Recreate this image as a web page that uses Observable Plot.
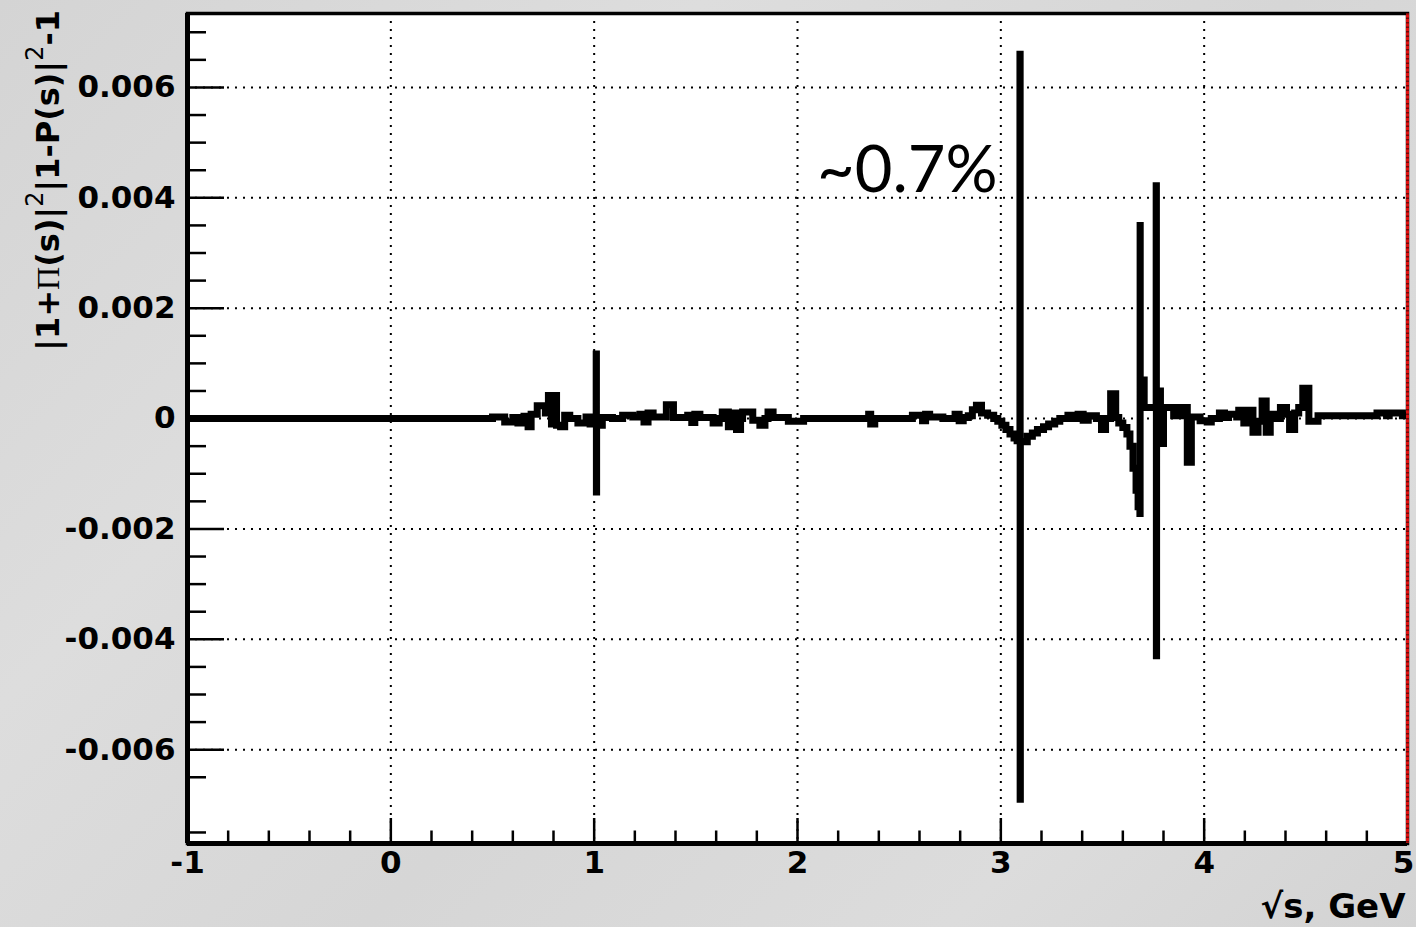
<!DOCTYPE html>
<html>
<head>
<meta charset="utf-8">
<script src="https://cdn.jsdelivr.net/npm/d3@7"></script>
<script src="https://cdn.jsdelivr.net/npm/@observablehq/plot@0.6"></script>
<style>
  html, body { margin: 0; padding: 0; background: #d6d6d6; }
  #chart { position: absolute; left: 0; top: 0; width: 1416px; height: 927px; overflow: hidden;
    background: linear-gradient(135deg, #d4d4d4 0%, #dddddd 30%, #d6d6d6 55%, #dcdcdc 80%, #d3d3d3 100%); }
</style>
</head>
<body>
<div id="chart"></div>
<script>
// sqrt(s) in GeV (bin starts, step-after)
const sqrtS = [
  -1.00, 0.50, 0.56, 0.60, 0.625, 0.655, 0.675, 0.69, 0.72, 0.76, 0.775, 0.79, 0.80, 0.815, 0.835, 0.855,
  0.88, 0.92, 0.96, 0.98, 1.010, 1.011, 1.012, 1.04, 1.09, 1.14, 1.19, 1.225, 1.245, 1.265, 1.29, 1.355,
  1.39, 1.46, 1.48, 1.495, 1.52, 1.585, 1.615, 1.63, 1.66, 1.685, 1.70, 1.72, 1.73, 1.78, 1.815, 1.84,
  1.855, 1.88, 1.955, 2.03, 2.35, 2.36, 2.38, 2.565, 2.615, 2.63, 2.65, 2.715, 2.775, 2.795, 2.815, 2.84,
  2.86, 2.88, 2.905, 2.935, 2.965, 2.985, 3.005, 3.025, 3.045, 3.065, 3.08, 3.094, 3.095, 3.096, 3.13, 3.155,
  3.18, 3.21, 3.235, 3.265, 3.29, 3.33, 3.355, 3.38, 3.405, 3.43, 3.47, 3.495, 3.515, 3.54, 3.565, 3.58,
  3.60, 3.62, 3.635, 3.65, 3.665, 3.675, 3.684, 3.685, 3.6855, 3.705, 3.764, 3.765, 3.766, 3.785, 3.80, 3.85,
  3.863, 3.883, 3.91, 3.917, 3.937, 3.98, 4.015, 4.035, 4.075, 4.10, 4.12, 4.16, 4.17, 4.195, 4.215, 4.24,
  4.265, 4.285, 4.305, 4.325, 4.355, 4.375, 4.405, 4.42, 4.445, 4.465, 4.485, 4.515, 4.56, 4.85, 4.897, 4.91,
  4.975, 5.00
];
// |1+Pi(s)|^2 |1-P(s)|^2 - 1
const deviation = [
  0, 0.00003, -0.00006, 0.00002, -0.00008, 0.00004, -0.00015, 0.00008, 0.00023, 0.0001, 0.00042, -0.0001, 0.00042, -0.00012, -0.00015, 0.00006,
  0, -0.00008, 0.00003, -0.0001, 0.00117, -0.00133, -0.00012, 0.00002, 0, 0.00006, 0.00003, 0.00008, -0.00006, 0.0001, 0.00003, 0.00025,
  0.00002, 0.00006, -0.00007, 0.00008, 0.00002, -0.00008, 0, 0.00012, -0.00015, 0.0001, -0.0002, 0, 0.00012, -0.00003, -0.00012, 0,
  0.00012, 0.00002, -0.00005, 0, 0.00008, -0.0001, 0, 0.00006, -0.00004, 0.00008, 0.00003, 0, 0.00008, -0.00004, 0.00002, 0.00005,
  0.00016, 0.00024, 0.0001, 0.00006, 0, -0.00005, -0.00012, -0.0002, -0.00028, -0.00035, -0.0004, 0.0066, -0.0069, -0.00042, -0.00032, -0.00026,
  -0.0002, -0.00015, -0.0001, -0.00005, 0, 0.00006, 0, 0.00008, -0.00003, 0.00005, 0, -0.0002, 0, 0.00045, 0.00002, -0.00008,
  -0.00016, -0.00028, -0.0005, -0.0009, -0.0013, -0.0016, -0.00172, 0.0035, 0.0007, 0.0002, 0.00422, -0.0043, 0.0005, -0.00045, 0.0002, 0.00005,
  0.0002, 0.00005, 0.0002, -0.00079, 0.00003, -0.00004, -0.00006, 0, 0.0001, 0.00002, 0.00008, 0.00003, 0.00015, -0.00008, 0.00015, -0.00025,
  -0.00005, 0.00032, -0.00025, 0.00008, 0, 0.0002, 0.00008, -0.0002, 0.0001, 0.0002, 0.00055, -0.00005, 0.00005, 0.0001, 0.00005, 0.0001,
  0.00005, 0.00005
];
// tick values
const xMajorTicks = [-1, 0, 1, 2, 3, 4, 5];
const xMinorTicks = [-0.8, -0.6, -0.4, -0.2, 0.2, 0.4, 0.6, 0.8, 1.2, 1.4, 1.6, 1.8, 2.2, 2.4, 2.6, 2.8, 3.2, 3.4, 3.6, 3.8, 4.2, 4.4, 4.6, 4.8];
const yMajorTicks = [-0.006, -0.004, -0.002, 0, 0.002, 0.004, 0.006];
const yMinorTicks = [-0.0075, -0.0065, -0.0055, -0.005, -0.0045, -0.0035, -0.003, -0.0025, -0.0015, -0.001, -0.0005,
  0.0005, 0.001, 0.0015, 0.0025, 0.003, 0.0035, 0.0045, 0.005, 0.0055, 0.0065, 0.007];
const annotations = [{x: 2.54, y: 0.0041, label: "~0.7%"}];
const xTitle = "\u221As, GeV";

const data = sqrtS.map((x, i) => ({x, y: deviation[i]}));

const W = 1416, H = 927;
const mL = 187, mR = 9, mT = 13, mB = 84;
const innerW = W - mL - mR, innerH = H - mT - mB;
const yDomain = [-0.0077, 0.00734];

const fmtY = d => d === 0 ? "0" : (d < 0 ? "-" : "") + Math.abs(d).toFixed(3);
const fmtX = d => (d < 0 ? "-" : "") + Math.abs(d);
const tickFont = {fontSize: 31, fontWeight: "bold", fontFamily: "DejaVu Sans", fill: "black"};

const plot = Plot.plot({
  width: W, height: H,
  marginLeft: mL, marginRight: mR, marginTop: mT, marginBottom: mB,
  style: {background: "transparent", fontFamily: "DejaVu Sans", overflow: "visible"},
  x: {domain: [-1, 5], label: null},
  y: {domain: yDomain, label: null},
  marks: [
    Plot.frame({fill: "white", stroke: null}),
    Plot.gridX(xMajorTicks.slice(1, -1), {stroke: "black", strokeOpacity: 1, strokeWidth: 2, strokeDasharray: "2,6"}),
    Plot.gridY(yMajorTicks, {stroke: "black", strokeOpacity: 1, strokeWidth: 2, strokeDasharray: "2,6"}),
    // inward tick marks
    Plot.tickX(xMajorTicks, {x: d => d, insetTop: innerH - 25, stroke: "black", strokeWidth: 2.5}),
    Plot.tickX(xMinorTicks, {x: d => d, insetTop: innerH - 12.5, stroke: "black", strokeWidth: 2.5}),
    Plot.tickY(yMajorTicks, {y: d => d, insetRight: innerW - 37, stroke: "black", strokeWidth: 2.5}),
    Plot.tickY(yMinorTicks, {y: d => d, insetRight: innerW - 19, stroke: "black", strokeWidth: 2.5}),
    Plot.line(data, {x: "x", y: "y", curve: "step-after", stroke: "black", strokeWidth: 7,
      strokeLinejoin: "miter", strokeMiterlimit: 4, strokeLinecap: "butt", clip: true}),
    Plot.frame({stroke: "black", strokeWidth: 3.5}),
    Plot.ruleX([-1], {stroke: "black", strokeWidth: 5}),
    Plot.ruleY([yDomain[0]], {stroke: "black", strokeWidth: 5}),
    Plot.ruleX([5], {stroke: "#e01010", strokeWidth: 3}),
    Plot.ruleX([5], {stroke: "#300000", strokeWidth: 3, strokeDasharray: "1.5,3", strokeOpacity: 0.6}),
    Plot.axisY(yMajorTicks, {tickSize: 0, tickPadding: 12, tickFormat: fmtY, ...tickFont, label: null}),
    Plot.axisX(xMajorTicks.slice(0, -1), {tickSize: 0, tickPadding: 7, tickFormat: fmtX, ...tickFont, label: null}),
    Plot.axisX(xMajorTicks.slice(-1), {tickSize: 0, tickPadding: 7, tickFormat: fmtX, dx: -4, ...tickFont, label: null}),
    Plot.text([xTitle], {frameAnchor: "bottom-right", dy: 74, dx: -2, text: d => d, textAnchor: "end",
      fontSize: 34, fontWeight: "bold", fontFamily: "DejaVu Sans", fill: "black"}),
    Plot.text(annotations, {x: "x", y: "y", text: "label", textAnchor: "middle", lineAnchor: "bottom",
      fontSize: 65, fontWeight: "normal", fontFamily: "Lato", fill: "black"})
  ]
});
document.getElementById("chart").appendChild(plot);

// Y-axis title with mixed fonts and superscripts
const svg = d3.select(plot);
const yt = svg.append("text")
  .attr("transform", "translate(59,10) rotate(-90)")
  .attr("text-anchor", "end")
  .attr("font-family", "DejaVu Sans")
  .attr("font-weight", "bold")
  .attr("font-size", 32)
  .attr("fill", "black");
const parts = [
  {t: "|1+"},
  {t: "\u03A0", family: "Liberation Serif", weight: "normal"},
  {t: "(s)|"},
  {t: "2", sup: true},
  {t: "|1-P(s)|"},
  {t: "2", sup: true},
  {t: "-1"}
];
let shifted = false;
for (const p of parts) {
  const ts = yt.append("tspan").text(p.t);
  if (p.family) ts.attr("font-family", p.family);
  if (p.weight) ts.attr("font-weight", p.weight);
  if (p.sup) { ts.attr("font-size", 24).attr("font-weight", "normal").attr("dy", -16); shifted = true; }
  else if (shifted) { ts.attr("dy", 16); shifted = false; }
}
</script>
</body>
</html>
